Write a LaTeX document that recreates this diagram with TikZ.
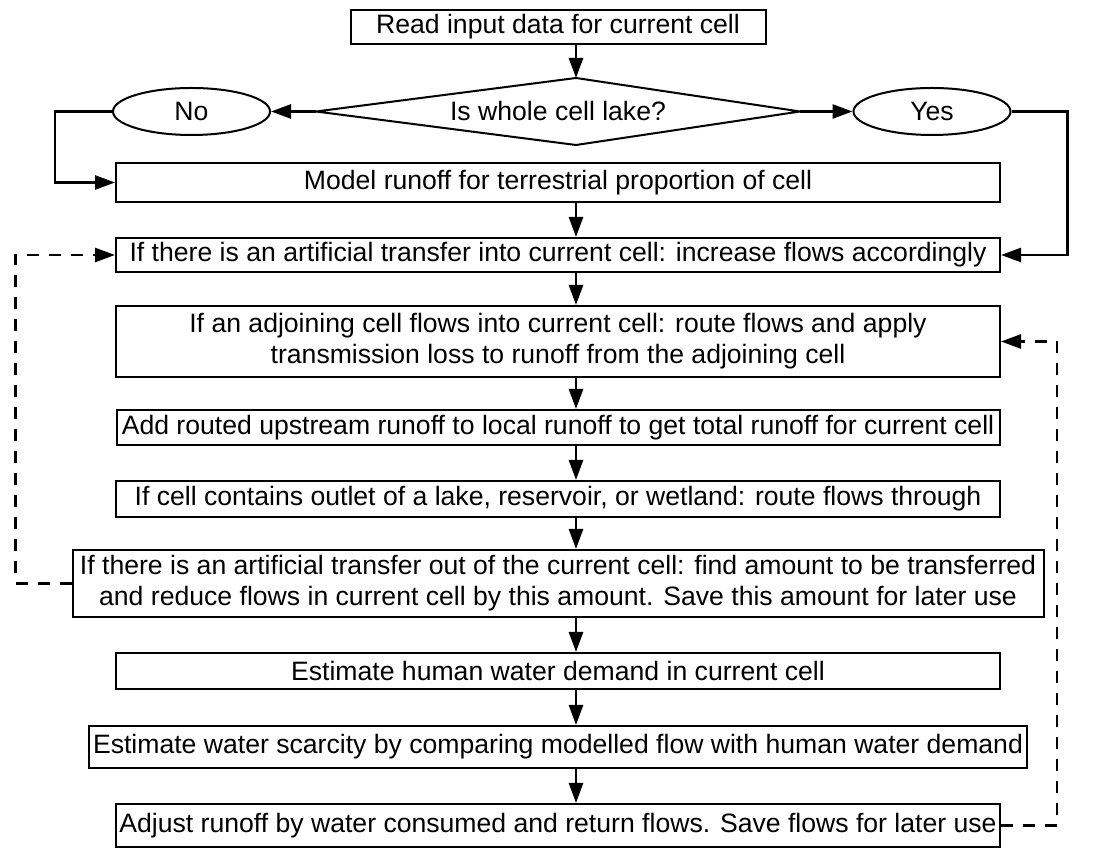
\documentclass[tikz,border=0pt]{standalone}
\usepackage{fontspec}
\setmainfont{Liberation Sans}
\usetikzlibrary{shapes.geometric,arrows.meta}
\begin{document}
\begin{tikzpicture}[x=0.5pt, y=-0.5pt, line width=1pt,
                    main/.style = {draw, rectangle, inner sep=0pt, align=center, minimum width=442pt, font=\fontsize{13.3}{15.5}\selectfont},
                    oval/.style = {draw, ellipse, inner sep=0pt, minimum width=78.5pt, minimum height=23.5pt, font=\fontsize{13.3}{15.5}\selectfont},
                    flow/.style = {-{Triangle[length=10pt,width=7pt]}, line width=1.3pt},
                    back/.style = {flow, dash pattern=on 6pt off 5pt}]
                                \useasboundingbox (0,0) rectangle (1104,854);
                                \coordinate (s) at (576,0);
                                \node[main, minimum width=207.5pt, minimum height=17pt] (1) at (558,27) {Read input data for current cell};
                                \node[main, draw=none, minimum width=241pt, minimum height=32.5pt] (2) at (558,111.5) {Is whole cell lake?};
                                \draw (2.west) -- (2.north -| s) -- (2.east) -- (2.south -| s) -- cycle;
                                \node[oval] (3) at (191.5,111.5) {No};
                                \node[oval] (4) at (932,111.5) {Yes};
                                \node[main, minimum height=19.5pt] (5) at (558,182.5) {Model runoff for terrestrial proportion of cell};
                                \node[main, minimum height=17pt] (6) at (558,255) {If there is an artificial transfer into current cell: increase flows accordingly};
                                \node[main, minimum height=35.5pt] (7) at (558,341.5) {If an adjoining cell flows into current cell: route flows and apply\\transmission loss to runoff from the adjoining cell};
                                \node[main, minimum width=441.5pt, minimum height=17.5pt] (8) at (558,427.5) {Add routed upstream runoff to local runoff to get total runoff for current cell};
                                \node[main, minimum height=18pt] (9) at (558,499) {If cell contains outlet of a lake, reservoir, or wetland: route flows through};
                                \node[main, minimum width=485.5pt, minimum height=33.5pt] (10) at (558,583.5) {If there is an artificial transfer out of the current cell: find amount to be transferred\\and reduce flows in current cell by this amount. Save this amount for later use};
                                \node[main, minimum height=18pt] (11) at (558,671) {Estimate human water demand in current cell};
                                \node[main, minimum width=469pt, minimum height=21pt] (12) at (558,747) {Estimate water scarcity by comparing modelled flow with human water demand};
                                \node[main, minimum height=21.5pt] (13) at (558,825.5) {Adjust runoff by water consumed and return flows. Save flows for later use};
                                \draw[flow] (1.south -| s) -- (2.north -| s);
                                \draw[flow] (2.west) -- (3.east);
                                \draw[flow] (2.east) -- (4.west);
                                \draw[flow] (3.west) -- ++(-57,0) |- (5.west);
                                \draw[flow] (4.east) -- ++(56,0) |- (6.east);
                                \draw[flow] (5.south -| s) -- (6.north -| s);
                                \draw[flow] (6.south -| s) -- (7.north -| s);
                                \draw[flow] (7.south -| s) -- (8.north -| s);
                                \draw[flow] (8.south -| s) -- (9.north -| s);
                                \draw[flow] (9.south -| s) -- (10.north -| s);
                                \draw[flow] (10.south -| s) -- (11.north -| s);
                                \draw[flow] (11.south -| s) -- (12.north -| s);
                                \draw[flow] (12.south -| s) -- (13.north -| s);
                                \draw[back] (10.west) -- ++(-56,0) |- (6.west);
                                \draw[back] (13.east) -- ++(56,0) |- (7.east);
                            \end{tikzpicture}
\end{document}
